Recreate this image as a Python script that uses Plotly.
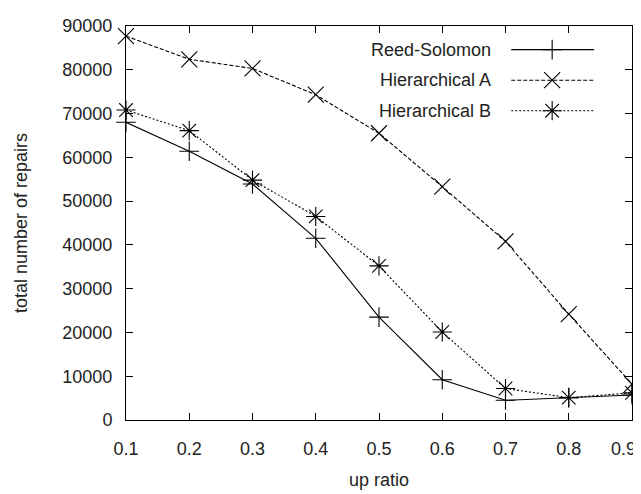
import plotly.graph_objects as go

up_ratio = [0.1, 0.2, 0.3, 0.4, 0.5, 0.6, 0.7, 0.8, 0.9]
reed_solomon = [68000, 61400, 53900, 41500, 23500, 9200, 4500, 5100, 5700]
hier_a = [87700, 82400, 80300, 74300, 65500, 53300, 40800, 24200, 8200]
hier_b = [70800, 66100, 54800, 46500, 35200, 20100, 7200, 5100, 6200]
series_names = ["Reed-Solomon", "Hierarchical A", "Hierarchical B"]
x_ticks = [0.1, 0.2, 0.3, 0.4, 0.5, 0.6, 0.7, 0.8, 0.9]
y_ticks = [0, 10000, 20000, 30000, 40000, 50000, 60000, 70000, 80000, 90000]

FONT = "Liberation Sans, Arial, sans-serif"
FS = 18
TXT = "#222222"
styles = [
    dict(dash="solid", symbol="cross-thin-open", size=14),
    dict(dash="4px,2px", symbol="x-thin-open", size=16),
    dict(dash="2px,2px", symbol="asterisk-open", size=16),
]

fig = go.Figure()
for name, ys, st in zip(series_names, [reed_solomon, hier_a, hier_b], styles):
    fig.add_trace(go.Scatter(
        x=up_ratio, y=ys, mode="lines+markers", name=name,
        line=dict(color="black", width=1.1, dash=st["dash"]),
        marker=dict(symbol=st["symbol"], size=st["size"], color="black",
                    line=dict(color="black", width=1.1)),
        cliponaxis=False, showlegend=False,
    ))

# custom gnuplot-style key (text left, sample right) on an overlay axis in plot pixels
leg_rows = [24, 55, 86]
for name, yrow, st in zip(series_names, leg_rows, styles):
    fig.add_trace(go.Scatter(
        x=[386, 469], y=[yrow, yrow], mode="lines", xaxis="x2", yaxis="y2",
        line=dict(color="black", width=1.1, dash=st["dash"]), showlegend=False,
        hoverinfo="skip"))
    fig.add_trace(go.Scatter(
        x=[427], y=[yrow], mode="markers", xaxis="x2", yaxis="y2",
        marker=dict(symbol=st["symbol"], size=st["size"], color="black",
                    line=dict(color="black", width=1.1)),
        showlegend=False, hoverinfo="skip", cliponaxis=False))
    fig.add_annotation(x=368, y=yrow, xref="x2", yref="y2", text=name,
                       showarrow=False, xanchor="right", yanchor="middle",
                       font=dict(family=FONT, size=FS, color=TXT))

# last x tick label kept inside the page, as in the reference
tick_text = [f"{v:.1f}" for v in x_ticks]
fig.add_annotation(x=x_ticks[-1], y=0, xref="x", yref="y", text=tick_text[-1],
                   showarrow=False, xanchor="right", yanchor="top", yshift=-17,
                   xshift=6, font=dict(family=FONT, size=FS, color=TXT))
tick_text[-1] = ""

fig.update_layout(
    width=633, height=486,
    margin=dict(l=118, r=8, t=14, b=72),
    paper_bgcolor="white", plot_bgcolor="white",
    font=dict(family=FONT, size=FS, color=TXT),
    xaxis=dict(
        range=[0.1, 0.9], tickvals=x_ticks, ticktext=tick_text,
        ticks="inside", ticklen=7, tickcolor="black", showline=True, linecolor="black",
        linewidth=1, mirror="ticks", showgrid=False, zeroline=False,
        ticklabelstandoff=12,
        title=dict(text="up ratio", standoff=15, font=dict(size=FS)),
    ),
    yaxis=dict(
        range=[0, 90000], tickvals=y_ticks, ticktext=[str(v) for v in y_ticks],
        ticks="inside", ticklen=7, tickcolor="black", showline=True, linecolor="black",
        linewidth=1, mirror="ticks", showgrid=False, zeroline=False,
        ticklabelstandoff=9,
        title=dict(text="total number of repairs", standoff=30, font=dict(size=FS)),
    ),
    xaxis2=dict(range=[0, 507], overlaying="x", visible=False, fixedrange=True),
    yaxis2=dict(range=[400, 0], overlaying="y", visible=False, fixedrange=True),
)

fig.write_html("out.html")
